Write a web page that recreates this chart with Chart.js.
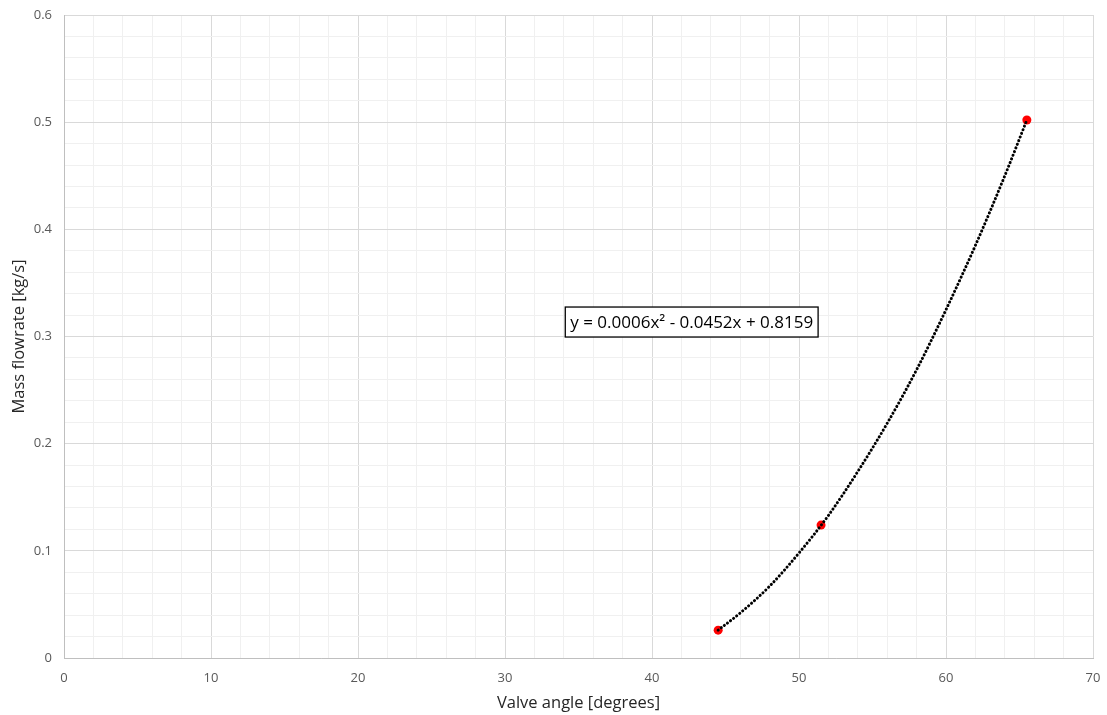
<!DOCTYPE html>
<html lang="en">
<head>
    <meta charset="UTF-8">
    <title>Mass flowrate vs valve angle</title>
    <script src="https://cdn.jsdelivr.net/npm/chart.js"></script>
    <style>
        html, body { margin: 0; padding: 0; background: #fff; }
        #wrap { width: 1107px; height: 715px; }
    </style>
</head>
<body>
    <div id="wrap"><canvas id="flowChart"></canvas></div>
    <script>
        // measured points
        const valveAngle = [44.5, 51.5, 65.5];
        const massFlow = [0.026, 0.124, 0.502];

        // polynomial trendline
        const trendAngle = [44.5, 46, 48, 50, 52, 54, 56, 58, 60, 62, 64, 65.5];
        const trendFlow = [0.026, 0.042, 0.067, 0.098, 0.133, 0.174, 0.219, 0.269, 0.325, 0.385, 0.450, 0.502];

        const trendLabel = 'y = 0.0006x² - 0.0452x + 0.8159';
        const labelAnchor = { x: 34.1, y: 0.3275 }; // top-left of the equation box

        const font = "'Open Sans', 'Liberation Sans', sans-serif";

        // draws the trendline equation box
        const equationBox = {
            id: 'equationBox',
            afterDatasetsDraw(chart) {
                const c = chart.ctx;
                const left = chart.scales.x.getPixelForValue(labelAnchor.x);
                const top = chart.scales.y.getPixelForValue(labelAnchor.y);
                c.save();
                c.font = '17px ' + font;
                const w = c.measureText(trendLabel).width + 10;
                const h = 30;
                c.fillStyle = '#fff';
                c.fillRect(left, top, w, h);
                c.strokeStyle = '#000';
                c.lineWidth = 1.3;
                c.strokeRect(left, top, w, h);
                c.fillStyle = '#000';
                c.textBaseline = 'middle';
                c.fillText(trendLabel, left + 5, top + h / 2 + 1);
                c.restore();
            }
        };

        const ctx = document.getElementById('flowChart').getContext('2d');
        new Chart(ctx, {
            type: 'scatter',
            data: {
                datasets: [
                    {
                        label: 'Trend',
                        data: trendAngle.map((x, i) => ({ x: x, y: trendFlow[i] })),
                        showLine: true,
                        borderColor: '#000',
                        borderWidth: 3,
                        borderDash: [0.1, 3.8],
                        borderCapStyle: 'round',
                        cubicInterpolationMode: 'monotone',
                        pointRadius: 0
                    },
                    {
                        label: 'Measured',
                        data: valveAngle.map((x, i) => ({ x: x, y: massFlow[i] })),
                        backgroundColor: '#ff0000',
                        borderColor: '#ff0000',
                        pointRadius: 4.5,
                        pointBorderWidth: 0
                    }
                ]
            },
            options: {
                responsive: true,
                maintainAspectRatio: false,
                animation: false,
                layout: { padding: { left: 0, right: 14, top: 15, bottom: 0 } },
                plugins: {
                    legend: { display: false },
                    tooltip: { enabled: false }
                },
                scales: {
                    x: {
                        type: 'linear',
                        min: 0,
                        max: 70,
                        afterFit: s => { s.height = 57; s.paddingLeft = 0; s.paddingRight = 0; },
                        border: { color: '#bfbfbf', width: 1 },
                        grid: {
                            drawTicks: false,
                            color: c => (c.tick.value % 10 === 0 ? '#d9d9d9' : '#f0f0f0'),
                            lineWidth: 1
                        },
                        ticks: {
                            stepSize: 2,
                            padding: 12,
                            color: '#595959',
                            font: { family: font, size: 13 },
                            callback: v => (v % 10 === 0 ? v : '')
                        },
                        title: {
                            display: true,
                            text: 'Valve angle [degrees]',
                            color: '#262626',
                            font: { family: font, size: 16.5 },
                            padding: { top: 2, bottom: 2 }
                        }
                    },
                    y: {
                        type: 'linear',
                        min: 0,
                        max: 0.6,
                        afterFit: s => { s.width = 64; s.paddingTop = 0; s.paddingBottom = 0; },
                        border: { color: '#bfbfbf', width: 1 },
                        grid: {
                            drawTicks: false,
                            color: c => (Math.round(c.tick.value * 100) % 10 === 0 ? '#d9d9d9' : '#f0f0f0'),
                            lineWidth: 1
                        },
                        ticks: {
                            stepSize: 0.02,
                            padding: 12,
                            color: '#595959',
                            font: { family: font, size: 13 },
                            callback: v => {
                                const r = Math.round(v * 100);
                                return r % 10 === 0 ? String(r / 100) : '';
                            }
                        },
                        title: {
                            display: true,
                            text: 'Mass flowrate [kg/s]',
                            color: '#262626',
                            font: { family: font, size: 16.5 },
                            padding: { top: 9, bottom: 4 }
                        }
                    }
                }
            },
            plugins: [equationBox]
        });
    </script>
</body>
</html>
